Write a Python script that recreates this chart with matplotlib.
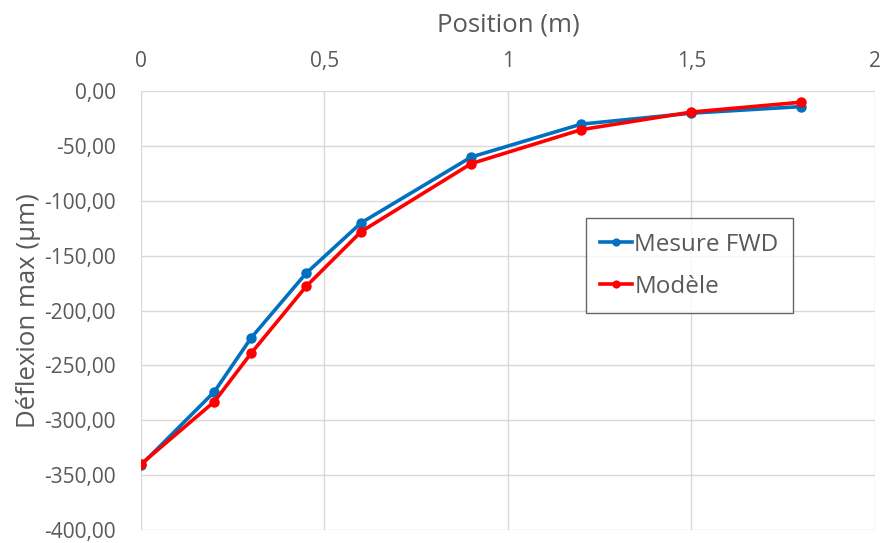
import numpy as np
import matplotlib.pyplot as plt
from matplotlib.ticker import FuncFormatter

plt.rcParams['font.family'] = ['Open Sans', 'DejaVu Sans']

# data
position = [0, 0.2, 0.3, 0.45, 0.6, 0.9, 1.2, 1.5, 1.8]
mesure_fwd = [-341, -274, -225, -166, -120, -60, -30, -20, -14]
modele = [-340, -283, -239, -178, -128, -66, -35, -19, -10]

grey = '#595959'

fig = plt.figure(figsize=(8.81, 5.43), dpi=100)
ax = fig.add_axes([0.160, 0.024, 0.833, 0.808])

ax.plot(position, mesure_fwd, color='#0070c0', lw=2.6, marker='o', ms=6.5,
        label='Mesure FWD', zorder=3)
ax.plot(position, modele, color='#ff0000', lw=2.6, marker='o', ms=6.5,
        label='Modèle', zorder=4)

ax.set_xlim(0, 2)
ax.set_ylim(-400, 0)
ax.set_xticks([0, 0.5, 1, 1.5, 2])
ax.set_yticks(np.arange(-400, 1, 50))
ax.xaxis.set_major_formatter(FuncFormatter(lambda v, p: ('%g' % v).replace('.', ',')))
ax.yaxis.set_major_formatter(FuncFormatter(lambda v, p: ('%.2f' % v).replace('.', ',')))
ax.xaxis.tick_top()
ax.xaxis.set_label_position('top')
ax.tick_params(length=0, labelsize=15, colors=grey)
ax.tick_params(axis='x', pad=14)
ax.tick_params(axis='y', pad=18)

ax.set_xlabel('Position (m)', fontsize=18.5, color=grey, labelpad=14)
ax.set_ylabel('Déflexion max (µm)', fontsize=18.5, color=grey, labelpad=2)

ax.grid(True, color='#d9d9d9', lw=1)
ax.set_axisbelow(True)
for s in ax.spines.values():
    s.set_visible(False)

leg = ax.legend(loc='upper left', bbox_to_anchor=(0.606, 0.711), fontsize=17.5,
                frameon=True, fancybox=False, edgecolor='#404040',
                handlelength=1.3, handletextpad=0.1, borderpad=0.6,
                labelspacing=0.75, markerscale=0.75, borderaxespad=0)
leg.get_frame().set_linewidth(1)
for t in leg.get_texts():
    t.set_color(grey)

fig.savefig('out.png', dpi=100)
